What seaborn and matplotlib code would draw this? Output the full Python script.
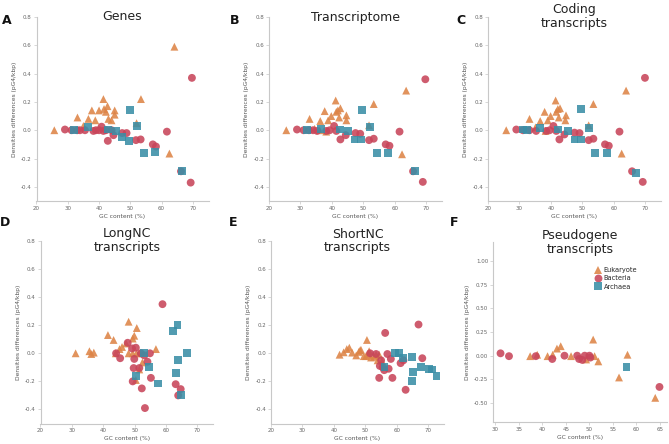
import matplotlib
matplotlib.use("Agg")
import matplotlib.pyplot as plt
import seaborn as sns
import pandas as pd
import numpy as np

# (GC content %, density difference pG4/kbp)
genes_euk = [(25.7, 0.0), (33.1, 0.09), (35.0, 0.03), (36.6, 0.08), (37.7, 0.14), (38.8, 0.07),
             (40.0, 0.14), (41.4, 0.22), (41.6, 0.15), (42.2, 0.13), (42.7, 0.17), (43.0, 0.08),
             (44.0, 0.07), (45.0, 0.14), (45.0, 0.11), (52.0, 0.05), (53.4, 0.22), (64.1, 0.59),
             (62.5, -0.165)]
genes_bac = [(29.1, 0.005), (31.2, 0.0), (33.0, 0.0), (33.9, 0.0), (35.5, 0.0), (38.2, -0.005),
             (39.0, 0.0), (40.0, 0.0), (40.8, 0.025), (41.4, -0.005), (42.2, 0.0), (42.8, -0.075),
             (44.0, 0.0), (44.6, -0.035), (47.4, -0.02), (48.8, -0.02), (51.8, -0.07), (53.3, -0.065),
             (57.2, -0.1), (58.2, -0.115), (61.7, -0.01), (66.2, -0.29), (69.7, 0.37), (69.3, -0.37)]
genes_arc = [(32.0, 0.0), (36.6, 0.02), (42.8, 0.005), (45.4, -0.005), (47.3, -0.045), (49.6, -0.075),
             (49.9, 0.14), (52.0, 0.03), (54.4, -0.16), (57.9, -0.155), (66.5, -0.29)]

transcr_euk = [(25.5, 0.0), (32.9, 0.08), (34.5, 0.01), (36.1, 0.0), (36.3, 0.065), (37.7, 0.135),
               (38.2, -0.01), (38.8, 0.07), (39.8, 0.10), (41.2, 0.21), (41.4, 0.13), (41.9, 0.14),
               (42.3, 0.09), (42.7, 0.155), (44.6, 0.105), (44.6, 0.07), (51.8, 0.035), (53.3, 0.185),
               (63.6, 0.28), (62.3, -0.17)]
transcr_bac = [(28.9, 0.005), (31.0, 0.0), (32.7, 0.0), (34.0, 0.0), (35.3, -0.005), (38.2, -0.005),
               (39.3, 0.0), (40.7, 0.03), (41.4, -0.005), (42.7, -0.065), (44.4, -0.035), (47.5, -0.02),
               (49.0, -0.025), (51.8, -0.07), (53.3, -0.06), (57.1, -0.1), (58.3, -0.11), (61.5, -0.01),
               (65.8, -0.29), (69.7, 0.36), (68.9, -0.365)]
transcr_arc = [(32.1, 0.0), (36.6, 0.01), (42.5, 0.005), (45.1, -0.005), (47.2, -0.065), (49.3, -0.065),
               (49.7, 0.145), (52.0, 0.02), (54.3, -0.16), (57.8, -0.16), (66.3, -0.29)]

coding_euk = [(25.8, 0.0), (33.2, 0.08), (35.1, 0.02), (36.6, 0.065), (38.0, 0.13), (38.3, -0.005),
              (39.0, 0.07), (39.9, 0.10), (41.5, 0.21), (41.7, 0.13), (42.2, 0.15), (42.5, 0.09),
              (42.9, 0.155), (44.8, 0.105), (44.6, 0.07), (52.0, 0.035), (53.5, 0.185), (63.9, 0.28),
              (62.5, -0.165)]
coding_bac = [(29.0, 0.005), (31.1, 0.0), (33.2, 0.0), (35.3, -0.005), (38.5, -0.005), (39.6, 0.0),
              (40.8, 0.03), (41.7, -0.005), (42.7, -0.065), (44.3, -0.03), (47.5, -0.017), (49.1, -0.02),
              (52.0, -0.07), (53.5, -0.06), (57.2, -0.1), (58.4, -0.11), (61.8, -0.01), (65.8, -0.29),
              (69.9, 0.37), (69.2, -0.365)]
coding_arc = [(31.1, 0.005), (32.4, 0.0), (36.6, 0.015), (42.2, 0.005), (45.4, -0.005), (47.5, -0.065),
              (49.6, -0.065), (49.6, 0.15), (52.0, 0.015), (54.1, -0.16), (57.8, -0.16), (67.0, -0.3)]

longnc_euk = [(31.2, 0.0), (35.6, 0.015), (36.2, -0.005), (37.0, 0.005), (41.5, 0.13), (43.3, 0.095),
              (44.0, 0.0), (45.2, 0.03), (46.0, 0.045), (47.3, 0.07), (48.1, 0.225), (48.1, 0.0),
              (49.4, 0.105), (49.9, 0.125), (49.4, 0.0), (50.6, 0.0), (50.7, 0.18), (51.5, 0.0),
              (52.5, -0.065), (51.5, -0.115), (50.4, -0.19), (56.8, 0.03)]
longnc_bac = [(44.1, 0.0), (45.4, -0.035), (47.8, 0.075), (49.2, 0.035), (50.4, 0.04), (49.9, -0.04),
              (49.7, -0.105), (51.5, -0.105), (49.4, -0.2), (52.3, -0.25), (52.0, 0.0), (53.1, -0.015),
              (54.1, -0.06), (54.9, 0.0), (55.2, -0.175), (53.3, -0.39), (58.9, 0.35), (63.1, -0.22),
              (64.7, -0.255), (63.9, -0.3)]
longnc_arc = [(50.4, -0.16), (53.1, 0.0), (54.7, -0.1), (57.6, -0.215), (62.3, 0.16), (63.7, 0.2),
              (66.8, 0.0), (63.9, -0.045), (63.1, -0.14), (64.7, -0.3)]

shortnc_euk = [(41.8, -0.01), (43.1, 0.007), (44.1, 0.03), (44.9, 0.04), (45.8, 0.005), (47.1, -0.015),
               (47.9, 0.01), (48.3, 0.02), (48.6, 0.025), (49.5, -0.02), (50.2, -0.02), (50.5, 0.095),
               (51.0, -0.01), (51.2, 0.015), (51.8, -0.03), (52.8, -0.025), (53.4, -0.01), (53.9, -0.05),
               (54.4, -0.01), (55.3, -0.055)]
shortnc_bac = [(51.5, 0.0), (53.4, -0.005), (55.0, -0.05), (54.6, -0.09), (56.3, 0.145), (56.0, -0.12),
               (57.0, -0.005), (58.1, -0.04), (57.4, -0.11), (54.4, -0.175), (58.6, -0.175), (55.5, -0.1),
               (61.2, -0.07), (62.1, -0.05), (62.8, -0.26), (66.9, 0.205), (68.1, -0.035)]
shortnc_arc = [(56.1, -0.1), (59.5, 0.0), (60.7, 0.0), (62.0, -0.035), (64.7, -0.025), (65.2, -0.135),
               (64.9, -0.2), (67.6, -0.1), (70.2, -0.11), (71.1, -0.115), (72.6, -0.16)]

pseudo_euk = [(37.4, -0.005), (38.9, 0.01), (41.1, -0.005), (42.2, 0.01), (43.1, 0.075), (43.9, 0.1),
              (46.1, -0.005), (49.3, -0.04), (50.8, 0.17), (51.1, -0.005), (51.9, -0.06), (56.3, -0.23),
              (58.1, 0.01), (64.0, -0.445)]
pseudo_bac = [(31.1, 0.025), (32.9, -0.005), (38.6, -0.005), (42.1, -0.035), (44.7, 0.0), (47.4, 0.0),
              (47.8, -0.035), (48.5, -0.045), (49.0, 0.0), (50.0, 0.0), (50.2, -0.02), (64.9, -0.33)]
pseudo_arc = [(57.9, -0.115)]

domains = ["Eukaryote", "Bacteria", "Archaea"]
palette = {"Eukaryote": "#dd8447", "Bacteria": "#c8455a", "Archaea": "#3a8ea6"}
markers = {"Eukaryote": "^", "Bacteria": "o", "Archaea": "s"}

panels = [
    ("A", "Genes", (genes_euk, genes_bac, genes_arc)),
    ("B", "Transcriptome", (transcr_euk, transcr_bac, transcr_arc)),
    ("C", "Coding\ntranscripts", (coding_euk, coding_bac, coding_arc)),
    ("D", "LongNC\ntranscripts", (longnc_euk, longnc_bac, longnc_arc)),
    ("E", "ShortNC\ntranscripts", (shortnc_euk, shortnc_bac, shortnc_arc)),
    ("F", "Pseudogene\ntranscripts", (pseudo_euk, pseudo_bac, pseudo_arc)),
]

# axes boxes in pixels: x0, x1, y_top, y_bottom ; letter position
W, H = 669, 444
boxes = [(36.5, 208.5, 17, 201), (269, 442, 17, 201), (488, 661, 17, 201),
         (40.5, 213, 241, 423.5), (271, 444, 241, 423.5), (493, 667, 242, 422)]
letters_xy = [(7, 20), (235, 20), (461, 20), (5, 222), (233, 222), (454, 222)]

sns.set_theme(style="ticks")
plt.rcParams["font.family"] = ["DejaVu Sans"]

fig = plt.figure(figsize=(W / 100, H / 100), dpi=100)

for (letter, title, groups), (x0, x1, yt, yb), (lx, ly) in zip(panels, boxes, letters_xy):
    ax = fig.add_axes([x0 / W, 1 - yb / H, (x1 - x0) / W, (yb - yt) / H])
    rows = []
    for dom, pts in zip(domains, groups):
        for gc, d in pts:
            rows.append({"gc": gc, "diff": d, "domain": dom})
    df = pd.DataFrame(rows)
    sns.scatterplot(data=df, x="gc", y="diff", hue="domain", style="domain",
                    hue_order=domains, style_order=domains, palette=palette, markers=markers,
                    s=32, alpha=0.88, linewidth=0, ax=ax, legend=(letter == "F"))
    sns.despine(ax=ax)
    for sp in ("left", "bottom"):
        ax.spines[sp].set_color("#c8c8c8")
        ax.spines[sp].set_linewidth(0.8)
    ax.tick_params(labelsize=4, colors="#666666", length=2, width=0.5, pad=1.5)
    ax.tick_params(color="#c8c8c8")
    ax.set_xlabel("GC content (%)", fontsize=4.3, color="#555555", labelpad=2)
    ax.set_ylabel("Densities differences (pG4/kbp)", fontsize=4.3, color="#555555", labelpad=3)
    if letter == "F":
        ax.set_xlim(29.5, 66.5)
        ax.set_ylim(-0.7, 1.2)
        ax.set_xticks(np.arange(30, 66, 5))
        ax.set_yticks(np.arange(-0.5, 1.01, 0.25))
        ax.yaxis.set_major_formatter(matplotlib.ticker.FormatStrFormatter("%.2f"))
        h, l = ax.get_legend_handles_labels()
        ax.legend(h, l, loc="upper left", bbox_to_anchor=(0.56, 0.88), frameon=False,
                  fontsize=4.8, handletextpad=0.3, labelspacing=0.35, borderpad=0,
                  handlelength=1.2)
    else:
        ax.set_xlim(20, 75)
        ax.set_ylim(-0.5, 0.8)
        ax.set_xticks(np.arange(20, 71, 10))
        ax.set_yticks(np.arange(-0.4, 0.81, 0.2))
        ax.yaxis.set_major_formatter(matplotlib.ticker.FormatStrFormatter("%.1f"))
    ax.text(0.5, 1.0, title, transform=ax.transAxes, ha="center", va="center",
            fontsize=9, color="#222222", linespacing=1.1)
    fig.text(lx / W, 1 - ly / H, letter, ha="center", va="center",
             fontsize=9, fontweight="bold", color="#111111")

fig.savefig("out.png", dpi=100)
